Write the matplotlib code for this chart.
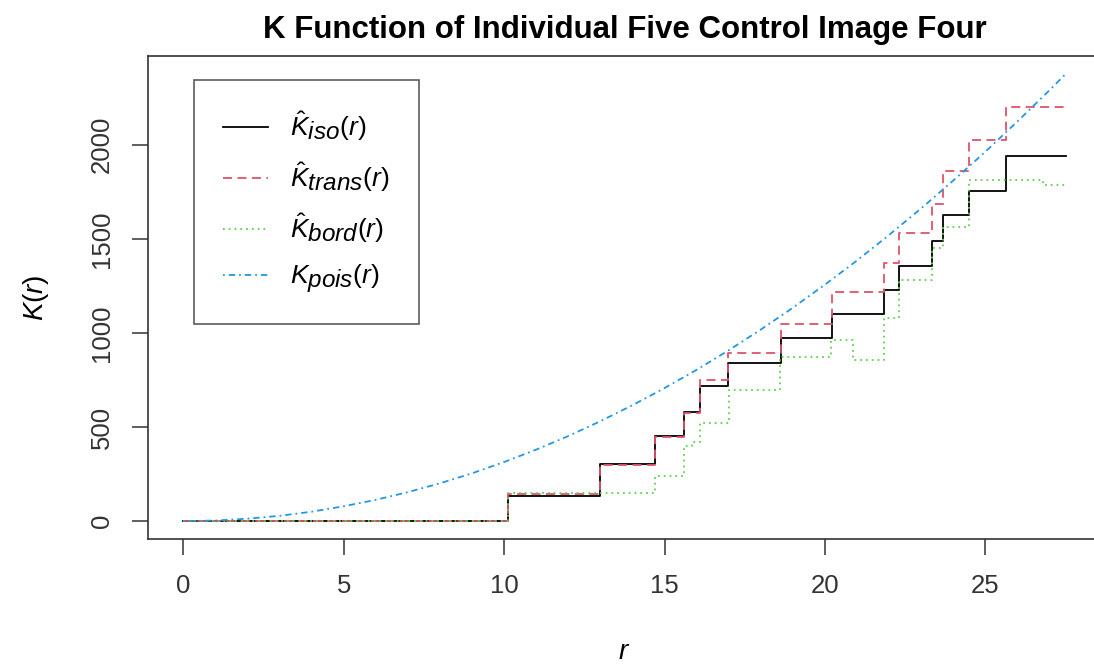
import numpy as np
import matplotlib
matplotlib.use("Agg")
import matplotlib.pyplot as plt
import matplotlib._mathtext as mt

plt.rcParams['font.family'] = ['Liberation Sans', 'DejaVu Sans']
plt.rcParams['mathtext.fontset'] = 'custom'
plt.rcParams['mathtext.it'] = 'Liberation Sans:italic'
plt.rcParams['mathtext.rm'] = 'Liberation Sans'
# R plotmath subscripts are drawn larger than mathtext's default
mt.SHRINK_FACTOR = 0.92

# step estimates (jump positions, level after the jump)
iso_r = [0, 10.12, 12.99, 14.70, 15.59, 16.10, 16.99, 18.63, 20.21, 21.84, 22.29, 23.32, 23.68, 24.50, 25.63, 27.5]
iso_k = [0, 134, 301, 454, 578, 720, 839, 972, 1099, 1229, 1353, 1486, 1628, 1752, 1938, 1938]

trans_r = [0, 10.12, 12.99, 14.70, 15.59, 16.10, 16.99, 18.63, 20.21, 21.84, 22.29, 23.32, 23.68, 24.50, 25.63, 27.5]
trans_k = [0, 145, 297, 445, 573, 748, 895, 1046, 1216, 1372, 1530, 1686, 1862, 2027, 2200, 2200]

bord_r = [0, 10.12, 14.70, 15.59, 15.85, 16.10, 17.00, 18.60, 20.20, 20.88, 21.84, 22.29, 23.32, 23.68, 24.50, 26.80, 27.5]
bord_k = [0, 147, 239, 399, 420, 523, 697, 874, 963, 856, 1078, 1282, 1450, 1562, 1810, 1787, 1787]

pois_r = [0, 1, 2, 3, 4, 5, 6, 7, 8, 9, 10, 11, 12, 13, 14, 15, 16, 17, 18, 19,
          20, 21, 22, 23, 24, 25, 26, 27, 27.5]
pois_k = [0, 3, 13, 28, 50, 79, 113, 154, 201, 254, 314, 380, 452, 531, 616, 707,
          804, 908, 1018, 1134, 1257, 1385, 1521, 1662, 1810, 1963, 2124, 2290, 2376]

fig = plt.figure(figsize=(10.94, 6.64), dpi=100)
ax = fig.add_axes([148/1094, 125/664, 953/1094, 483/664])

ax.step(iso_r, iso_k, where='post', color='black', lw=1.3, label=r'$\hat{K}_{iso}(r)$')
ax.step(trans_r, trans_k, where='post', color='#DF536B', lw=1.3,
        linestyle=(0, (5, 3)), label=r'$\hat{K}_{trans}(r)$')
ax.step(bord_r, bord_k, where='post', color='#61D04F', lw=1.3,
        linestyle=(0, (1, 2.2)), label=r'$\hat{K}_{bord}(r)$')
ax.plot(pois_r, pois_k, color='#2297E6', lw=1.3,
        linestyle=(0, (1, 2.2, 3.5, 2.2)), label=r'$K_{pois}(r)$')

ax.set_xlim(-1.1, 28.6)
ax.set_ylim(-95, 2471)
ax.set_xticks([0, 5, 10, 15, 20, 25])
ax.set_yticks([0, 500, 1000, 1500, 2000])
ax.tick_params(axis='both', labelsize=18.5, length=11.5, width=1.1, color='#333333',
               labelcolor='#333333')
ax.tick_params(axis='x', pad=14)
ax.tick_params(axis='y', pad=13)
for lab in ax.get_yticklabels():
    lab.set_rotation(90)
    lab.set_va('center')
for s in ax.spines.values():
    s.set_linewidth(1.2)
    s.set_color('#333333')

ax.set_xlabel(r'$r$', fontsize=20, labelpad=29)
ax.set_ylabel(r'$K(r)$', fontsize=20, labelpad=28)
ax.set_title('K Function of Individual Five Control Image Four', fontsize=22.5,
             fontweight='bold', pad=13)

leg = ax.legend(loc='upper left', bbox_to_anchor=(46/953, 1 - 24/483), borderaxespad=0,
                fontsize=19, frameon=True, fancybox=False, edgecolor='#333333',
                handlelength=1.7, handletextpad=0.85, borderpad=1.1, labelspacing=0.66)
leg.get_frame().set_linewidth(1.2)

fig.savefig('out.png', dpi=100)
